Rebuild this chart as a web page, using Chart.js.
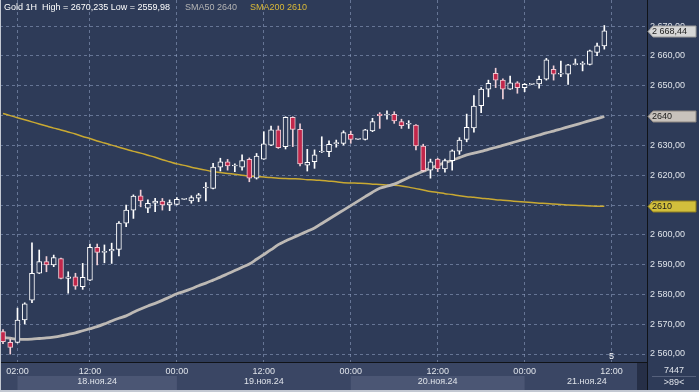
<!DOCTYPE html>
<html>
<head>
<meta charset="utf-8">
<script src="https://cdn.jsdelivr.net/npm/chart.js@4.4.1/dist/chart.umd.min.js"></script>
<style>
  html, body { margin: 0; padding: 0; background: #2e3b58; }
  #wrap { width: 699px; height: 392px; position: relative; }
</style>
</head>
<body>
<div id="wrap"><canvas id="chart" width="699" height="392"></canvas></div>
<script>
// Gold 1H, one bar per hour from 18.11.24 00:00
const opens = [
  2567.5, 2563.9, 2563.9, 2571.4, 2578.1, 2587.1, 2591.0, 2589.9, 2592.0, 2585.4,
  2585.9, 2582.6, 2584.8, 2595.8, 2594.1, 2594.6, 2595.1, 2603.9, 2608.3, 2613.1,
  2608.9, 2610.6, 2611.3, 2610.0, 2610.2, 2611.9, 2611.4, 2612.3, 2615.7, 2615.6,
  2622.7, 2624.5, 2623.1, 2622.7, 2625.3, 2619.0, 2625.4, 2630.1, 2635.2, 2629.6,
  2639.4, 2635.4, 2623.4, 2624.5, 2627.8, 2627.9, 2630.6, 2630.7, 2633.7, 2632.0,
  2632.0, 2634.9, 2640.5, 2640.2, 2640.4, 2638.0, 2637.1, 2636.8, 2629.8, 2621.7,
  2625.4, 2622.1, 2624.9, 2628.1, 2632.0, 2635.9, 2643.3, 2648.9, 2654.2, 2651.9,
  2648.9, 2651.0, 2649.4, 2650.5, 2650.6, 2652.2, 2655.5, 2653.9, 2653.9, 2657.1,
  2657.2, 2657.2, 2661.2, 2663.4
];
const highs = [
  2568.2, 2565.0, 2575.4, 2577.2, 2597.3, 2594.9, 2592.7, 2593.2, 2592.2, 2587.6,
  2587.1, 2590.4, 2596.9, 2596.9, 2596.6, 2597.2, 2604.4, 2610.0, 2613.4, 2615.0,
  2611.7, 2612.2, 2612.2, 2611.7, 2612.5, 2612.0, 2613.1, 2613.9, 2617.5, 2624.0,
  2625.7, 2625.3, 2623.8, 2626.8, 2625.8, 2627.3, 2634.6, 2636.5, 2636.5, 2639.6,
  2639.6, 2637.2, 2628.7, 2628.5, 2632.9, 2631.5, 2631.8, 2634.9, 2634.8, 2632.1,
  2635.4, 2639.1, 2641.0, 2641.6, 2641.3, 2638.8, 2638.3, 2637.0, 2630.4, 2625.4,
  2625.7, 2625.4, 2628.5, 2632.6, 2640.5, 2646.7, 2649.4, 2651.9, 2655.9, 2652.3,
  2653.3, 2651.4, 2650.8, 2650.6, 2653.3, 2659.2, 2656.7, 2658.3, 2657.2, 2659.0,
  2658.1, 2662.0, 2664.3, 2670.235
];
const lows = [
  2563.5, 2559.98, 2563.7, 2570.1, 2577.2, 2587.0, 2587.6, 2589.3, 2585.2, 2580.4,
  2581.7, 2581.7, 2584.6, 2589.9, 2590.6, 2590.4, 2592.9, 2602.7, 2605.5, 2609.4,
  2607.4, 2607.8, 2608.3, 2608.1, 2610.0, 2611.8, 2610.6, 2611.1, 2611.4, 2615.4,
  2621.4, 2621.7, 2621.2, 2621.7, 2617.8, 2618.7, 2625.3, 2629.9, 2629.0, 2628.8,
  2629.6, 2623.1, 2621.4, 2622.3, 2627.6, 2626.2, 2629.4, 2630.1, 2630.7, 2631.9,
  2631.8, 2634.6, 2635.7, 2638.8, 2637.4, 2635.7, 2635.7, 2628.5, 2621.2, 2619.0,
  2621.2, 2621.0, 2621.7, 2627.0, 2631.2, 2634.4, 2641.0, 2646.3, 2649.4, 2645.6,
  2648.8, 2647.5, 2648.0, 2650.4, 2649.2, 2651.9, 2651.9, 2653.1, 2650.5, 2657.0,
  2655.0, 2657.0, 2660.1, 2662.3
];
const closes = [
  2564.1, 2562.2, 2571.4, 2576.8, 2587.1, 2591.0, 2589.9, 2592.4, 2585.4, 2585.9,
  2582.8, 2585.7, 2595.8, 2594.1, 2594.3, 2595.1, 2603.9, 2608.3, 2613.0, 2611.4,
  2610.6, 2611.3, 2610.0, 2610.8, 2611.9, 2611.9, 2612.5, 2613.4, 2615.9, 2622.7,
  2624.5, 2623.1, 2623.2, 2624.9, 2619.0, 2626.4, 2630.5, 2635.2, 2629.2, 2639.4,
  2635.4, 2623.8, 2624.3, 2626.8, 2627.9, 2630.4, 2630.8, 2634.3, 2632.0, 2632.0,
  2635.2, 2638.0, 2640.0, 2640.3, 2638.2, 2636.6, 2637.2, 2629.8, 2621.5, 2624.5,
  2622.1, 2624.9, 2628.2, 2631.8, 2636.1, 2643.2, 2648.9, 2650.8, 2651.9, 2648.9,
  2651.0, 2649.4, 2650.5, 2650.5, 2652.2, 2658.7, 2653.9, 2654.0, 2657.0, 2657.2,
  2657.3, 2661.7, 2663.4, 2668.44
];
const sma50 = [
  2565.6, 2565.3, 2565.0, 2564.9, 2565.0, 2565.2, 2565.4, 2565.7, 2566.1, 2566.6,
  2567.1, 2567.8, 2568.5, 2569.2, 2570.1, 2571.1, 2572.0, 2572.8, 2574.0, 2575.1,
  2576.1, 2577.0, 2578.0, 2579.1, 2580.2, 2581.0, 2581.9, 2582.9, 2583.8, 2584.8,
  2585.8, 2586.9, 2588.0, 2589.1, 2590.2, 2591.8, 2593.4, 2595.0, 2596.7, 2597.9,
  2599.0, 2600.1, 2601.2, 2602.3, 2603.8, 2605.3, 2606.8, 2608.3, 2609.8, 2611.3,
  2612.8, 2614.3, 2615.6, 2616.3, 2617.0, 2618.1, 2619.2, 2620.3, 2621.3, 2622.4,
  2623.3, 2624.2, 2625.0, 2625.9, 2626.8, 2627.4, 2628.0, 2628.7, 2629.3, 2630.0,
  2630.7, 2631.4, 2632.1, 2632.8, 2633.5, 2634.2, 2634.8, 2635.5, 2636.2, 2636.9,
  2637.6, 2638.3, 2639.0, 2639.7
];
const sma200 = [
  2640.7, 2640.0, 2639.3, 2638.6, 2637.9, 2637.2, 2636.5, 2635.8, 2635.2, 2634.5,
  2633.8, 2633.0, 2632.3, 2631.5, 2630.8, 2630.1, 2629.4, 2628.7, 2628.0, 2627.4,
  2626.7, 2626.0, 2625.2, 2624.5, 2623.8, 2623.3, 2622.7, 2622.2, 2621.7, 2621.2,
  2620.9, 2620.6, 2620.3, 2620.0, 2619.7, 2619.5, 2619.4, 2619.2, 2619.0, 2618.9,
  2618.8, 2618.7, 2618.5, 2618.4, 2618.2, 2618.0, 2617.8, 2617.5, 2617.4, 2617.3,
  2617.2, 2617.0, 2616.9, 2616.7, 2616.6, 2616.4, 2616.0, 2615.5, 2615.0, 2614.5,
  2614.2, 2613.8, 2613.5, 2613.1, 2612.8, 2612.6, 2612.3, 2612.1, 2611.8, 2611.6,
  2611.4, 2611.2, 2611.0, 2610.8, 2610.6, 2610.5, 2610.3, 2610.2, 2610.0, 2609.9,
  2609.8, 2609.7, 2609.6, 2609.6
];
const priceTicks = [2560, 2570, 2580, 2590, 2600, 2610, 2620, 2630, 2640, 2650, 2660, 2670];
const timeTickIdx = [2, 12, 24, 36, 48, 60, 72, 84];
const timeTickLabels = ['02:00', '12:00', '00:00', '12:00', '00:00', '12:00', '00:00', '12:00'];
const dayLabels = ['18.ноя.24', '19.ноя.24', '20.ноя.24', '21.ноя.24'];
const dayFromIdx = [2, 24, 48, 72];
const dayToIdx = [24, 48, 72, 89.2];

const BG = '#2e3b58';
const fmtPrice = v => { const s = v.toFixed(2).replace('.', ','); return s.slice(0, 1) + ' ' + s.slice(1); };
const FONT = '9px "Liberation Sans", Arial, sans-serif';

const idx = opens.map((_, i) => i);
const isUp = i => closes[i] >= opens[i];

// backgrounds, bottom bands, overlay texts
const decorPlugin = {
  id: 'decor',
  beforeDraw(chart) {
    const { ctx, chartArea: a, scales: { x } } = chart;
    ctx.save();
    ctx.fillStyle = BG;
    ctx.fillRect(0, 0, chart.width, chart.height);
    ctx.fillStyle = '#3a4664';
    ctx.fillRect(0, a.bottom, a.right, chart.height - a.bottom);
    dayLabels.forEach((d, k) => {
      if (k % 2) return;
      const x0 = x.getPixelForValue(dayFromIdx[k]);
      const x1 = x.getPixelForValue(dayToIdx[k]);
      ctx.fillStyle = '#4b5674';
      ctx.fillRect(x0, 376, x1 - x0, 14);
    });
    ctx.fillStyle = '#262f47';
    ctx.fillRect(637, a.bottom, a.right - 637, chart.height - a.bottom);
    ctx.restore();
  },
  afterDraw(chart) {
    const { ctx, chartArea: a, scales: { x, y } } = chart;
    ctx.save();
    ctx.font = FONT;
    ctx.textBaseline = 'middle';
    // date row
    ctx.fillStyle = '#dfe3ea';
    ctx.textAlign = 'center';
    dayLabels.forEach((d, k) => {
      const cx = (x.getPixelForValue(dayFromIdx[k]) + x.getPixelForValue(dayToIdx[k])) / 2;
      ctx.fillText(d, cx, 382);
    });
    // header
    ctx.textAlign = 'left';
    const hi = String(Math.max(...highs)).replace('.', ',');
    const lo = String(Math.min(...lows)).replace('.', ',');
    ctx.fillStyle = '#ffffff';
    ctx.fillText('Gold 1H  High = ' + hi + ' Low = ' + lo, 4, 8);
    ctx.fillStyle = '#b4b4b4';
    ctx.fillText('SMA50 ' + Math.round(sma50[sma50.length - 1]), 185, 8);
    ctx.fillStyle = '#d9b938';
    ctx.fillText('SMA200 ' + Math.round(sma200[sma200.length - 1]), 250, 8);
    ctx.fillStyle = '#ffffff';
    ctx.textAlign = 'center';
    ctx.fillText('5', x.getPixelForValue(84), 357);

    // price tags on the right axis
    const tag = (val, text, fill, stroke) => {
      const py = Math.round(y.getPixelForValue(val)) + 0.5;
      const l = a.right + 1, r = chart.width - 3;
      ctx.beginPath();
      ctx.moveTo(l, py);
      ctx.lineTo(l + 5, py - 5.5);
      ctx.lineTo(r, py - 5.5);
      ctx.lineTo(r, py + 5.5);
      ctx.lineTo(l + 5, py + 5.5);
      ctx.closePath();
      ctx.fillStyle = fill;
      ctx.fill();
      ctx.strokeStyle = stroke;
      ctx.lineWidth = 1;
      ctx.stroke();
      ctx.fillStyle = '#1c1c1c';
      ctx.textAlign = 'left';
      ctx.fillText(text, l + 4, py + 0.5);
    };
    tag(closes[closes.length - 1], fmtPrice(closes[closes.length - 1]), '#d6d6d6', '#9a9a9a');
    tag(sma50[sma50.length - 1], String(Math.round(sma50[sma50.length - 1])), '#c8c2bc', '#8c8680');
    tag(sma200[sma200.length - 1], String(Math.round(sma200[sma200.length - 1])), '#d2bf3c', '#8d7d20');

    // bottom right box
    ctx.fillStyle = '#dfe3ea';
    ctx.textAlign = 'center';
    ctx.fillText('7447', 674, 371);
    ctx.fillText('>89<', 674, 383);
    ctx.strokeStyle = '#56617c';
    ctx.beginPath();
    ctx.moveTo(652, 376.5);
    ctx.lineTo(696, 376.5);
    ctx.stroke();

    // frame
    ctx.strokeStyle = '#101318';
    ctx.beginPath();
    ctx.moveTo(a.right + 0.5, a.bottom);
    ctx.lineTo(a.right + 0.5, 390);
    ctx.stroke();
    ctx.fillStyle = '#c3c8d2';
    ctx.fillRect(0, 390, chart.width, 2);
    ctx.fillRect(0, 0, 1, chart.height);
    ctx.restore();
  }
};

new Chart(document.getElementById('chart'), {
  type: 'bar',
  data: {
    datasets: [
      {
        type: 'line',
        label: 'SMA200',
        data: idx.map(i => ({ x: i, y: sma200[i] })),
        borderColor: '#c9a932',
        borderWidth: 1.5,
        pointRadius: 0,
        tension: 0.3,
        order: 4
      },
      {
        type: 'line',
        label: 'SMA50',
        data: idx.map(i => ({ x: i, y: sma50[i] })),
        borderColor: '#bdb9b5',
        borderWidth: 2.8,
        pointRadius: 0,
        tension: 0.3,
        order: 3
      },
      {
        label: 'wick',
        data: idx.map(i => ({ x: i, y: [lows[i], highs[i]] })),
        backgroundColor: idx.map(i => isUp(i) ? '#ffffff' : '#f0d0d8'),
        barThickness: 1,
        grouped: false,
        order: 2
      },
      {
        label: 'body',
        data: idx.map(i => ({ x: i, y: [opens[i], closes[i]] })),
        backgroundColor: idx.map(i => isUp(i) ? BG : '#c2274b'),
        borderColor: idx.map(i => isUp(i) ? '#ffffff' : '#efc9d2'),
        borderWidth: 1,
        borderSkipped: false,
        barThickness: 5,
        minBarLength: 1,
        grouped: false,
        order: 1
      }
    ]
  },
  options: {
    responsive: false,
    animation: false,
    layout: { padding: 0 },
    plugins: { legend: { display: false }, tooltip: { enabled: false } },
    scales: {
      x: {
        type: 'linear',
        min: -0.414,
        max: 88.89,
        offset: false,
        afterBuildTicks: s => { s.ticks = timeTickIdx.map(v => ({ value: v })); },
        afterFit: s => { s.height = 30; s.paddingLeft = 0; s.paddingRight = 0; },
        ticks: {
          autoSkip: false,
          maxRotation: 0,
          padding: 4,
          color: '#dfe3ea',
          font: { family: '"Liberation Sans", Arial, sans-serif', size: 9 },
          callback: (v, k) => timeTickLabels[k]
        },
        grid: { color: 'rgba(150,165,200,0.55)', drawTicks: false, offset: false },
        border: { display: true, color: '#101318', width: 1, dash: [3, 3] }
      },
      y: {
        position: 'right',
        min: 2557.32,
        max: 2678.79,
        afterBuildTicks: s => { s.ticks = priceTicks.map(v => ({ value: v })); },
        afterFit: s => { s.width = 52; s.paddingTop = 0; s.paddingBottom = 0; },
        ticks: {
          crossAlign: 'near',
          padding: 3,
          color: '#dfe3ea',
          font: { family: '"Liberation Sans", Arial, sans-serif', size: 9 },
          callback: v => fmtPrice(v)
        },
        grid: { color: 'rgba(150,165,200,0.55)', drawTicks: false },
        border: { display: true, color: '#101318', width: 1, dash: [3, 3] }
      }
    }
  },
  plugins: [decorPlugin]
});
</script>
</body>
</html>
